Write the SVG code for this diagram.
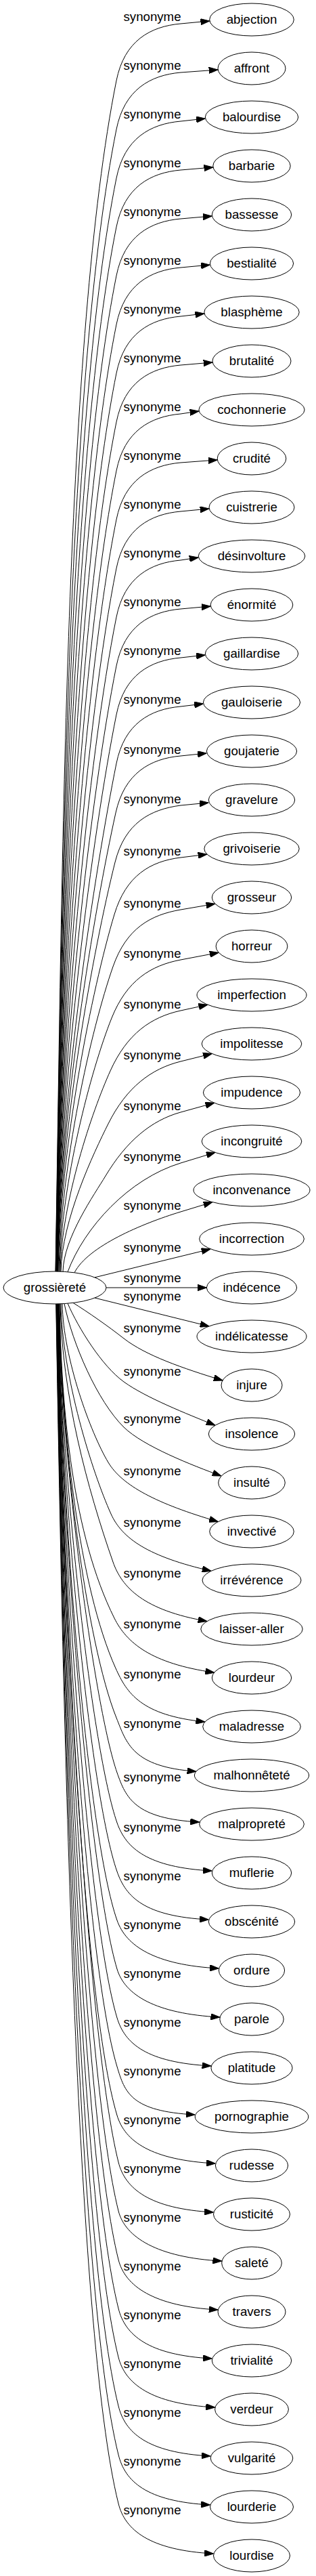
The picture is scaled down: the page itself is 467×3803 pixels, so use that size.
<svg xmlns="http://www.w3.org/2000/svg" width="467" height="3803" viewBox="0 0 467 3803">
<style>
text{font-family:"Liberation Sans",Arial,Helvetica,sans-serif;font-size:18.67px;fill:#000;text-anchor:middle}
.n ellipse{fill:#fff;stroke:#000;stroke-width:1}
.e path{fill:none;stroke:#000;stroke-width:1;marker-end:url(#arr)}
</style>
<defs>
<marker id="arr" markerUnits="userSpaceOnUse" viewBox="0 0 13.3 9.3" refX="13.3" refY="4.65" markerWidth="13.3" markerHeight="9.3" orient="auto"><path d="M0,0 L13.3,4.65 L0,9.3 z" fill="#000" stroke="#000" stroke-width="1"/></marker>
</defs>
<rect width="467" height="3803" fill="#fff"/>
<g id="connectors">
<g class="e" id="e0"><path d="M82,1877.3 C92.5,1261.9 96.2,498.3 172,119 C183.8,60.2 222,39 267,35 L309.7,31"/><text x="225" y="31">synonyme</text></g>
<g class="e" id="e1"><path d="M82.2,1877.3 C92.3,1287.1 99.3,554.7 172,191 C183.8,132.2 222,111 267,107 L322,103"/><text x="225" y="103">synonyme</text></g>
<g class="e" id="e2"><path d="M82.4,1877.3 C92.1,1312.3 102.4,611.2 172,263 C183.8,204.2 222,183 267,179 L303.3,175"/><text x="225" y="175">synonyme</text></g>
<g class="e" id="e3"><path d="M82.6,1877.3 C91.9,1337.5 105.5,667.7 172,335 C183.8,276.2 222,255 267,251 L314.8,247"/><text x="225" y="247">synonyme</text></g>
<g class="e" id="e4"><path d="M82.8,1877.3 C91.6,1362.7 108.6,724.1 172,407 C183.8,348.2 222,327 267,323 L313.3,319"/><text x="225" y="319">synonyme</text></g>
<g class="e" id="e5"><path d="M83,1877.3 C91.4,1387.9 111.7,780.6 172,479 C183.8,420.2 222,399 267,395 L310.4,391"/><text x="225" y="391">synonyme</text></g>
<g class="e" id="e6"><path d="M83.2,1877.3 C91.2,1413.1 114.8,837.1 172,551 C183.8,492.2 222,471 267,467 L301.8,463"/><text x="225" y="463">synonyme</text></g>
<g class="e" id="e7"><path d="M83.4,1877.3 C90.9,1438.3 117.9,893.6 172,623 C183.8,564.2 222,543 267,539 L314,535"/><text x="225" y="535">synonyme</text></g>
<g class="e" id="e8"><path d="M83.6,1877.3 C90.7,1463.5 121,950 172,695 C183.8,636.2 222,615 267,611 L293.9,607"/><text x="225" y="607">synonyme</text></g>
<g class="e" id="e9"><path d="M83.8,1877.3 C90.5,1488.7 124.1,1006.5 172,767 C183.8,708.2 222,687 267,683 L321.2,679"/><text x="225" y="679">synonyme</text></g>
<g class="e" id="e10"><path d="M84,1877.3 C90.2,1513.9 127.2,1063 172,839 C183.8,780.2 222,759 267,755 L309,751"/><text x="225" y="751">synonyme</text></g>
<g class="e" id="e11"><path d="M84.2,1877.3 C90,1539.1 130.4,1119.4 172,911 C183.8,852.2 222,831 267,827 L293.2,823"/><text x="225" y="823">synonyme</text></g>
<g class="e" id="e12"><path d="M84.4,1877.3 C89.8,1564.3 133.5,1175.9 172,983 C183.8,924.2 222,903 267,899 L311.2,895"/><text x="225" y="895">synonyme</text></g>
<g class="e" id="e13"><path d="M84.6,1877.3 C89.5,1589.5 136.6,1232.4 172,1055 C183.8,996.2 222,975 267,971 L303.3,967"/><text x="225" y="967">synonyme</text></g>
<g class="e" id="e14"><path d="M84.8,1877.3 C89.3,1614.7 139.7,1288.8 172,1127 C183.8,1068.2 222,1047 267,1043 L300.4,1039"/><text x="225" y="1039">synonyme</text></g>
<g class="e" id="e15"><path d="M85,1877.3 C89.1,1640.2 139,1345.5 171,1200 C183.9,1141.4 222,1120 267,1116 L305.4,1112"/><text x="225" y="1113">synonyme</text></g>
<g class="e" id="e16"><path d="M85.5,1877.3 C89.1,1665.8 137.8,1402 170,1273 C184.6,1214.8 222,1195 267,1189 L308.3,1185"/><text x="225" y="1186">synonyme</text></g>
<g class="e" id="e17"><path d="M86,1877.3 C89.2,1692.7 135.7,1461.1 169,1350 C186.2,1292.5 222.3,1271.5 267,1266 L306,1261.2"/><text x="225" y="1263">synonyme</text></g>
<g class="e" id="e18"><path d="M87,1877.3 C89.7,1719.7 134.3,1520.5 167,1427 C186.8,1370.4 222.6,1350.6 267,1343 L317.9,1334.3"/><text x="225" y="1340">synonyme</text></g>
<g class="e" id="e19"><path d="M88,1877.3 C90.2,1746.3 134.4,1579.5 165,1503 C187.3,1447.3 222.8,1425.4 267,1417 L323.2,1406.3"/><text x="225" y="1414">synonyme</text></g>
<g class="e" id="e20"><path d="M89,1877.3 C90.8,1773.6 136.2,1640.4 163,1581 C187.6,1526.3 223,1501.6 267,1492 L306.8,1483.3"/><text x="225" y="1489">synonyme</text></g>
<g class="e" id="e21"><path d="M90,1877.3 C91.3,1800.9 138.5,1702 160,1659 C186.8,1605.3 223.3,1577.8 267,1567 L313.3,1555.5"/><text x="225" y="1564">synonyme</text></g>
<g class="e" id="e22"><path d="M93,1877.3 C93.8,1827.8 140,1762.7 156,1736 C186.9,1684.5 223.6,1654 267,1642 L316.8,1628.2"/><text x="225" y="1639">synonyme</text></g>
<g class="e" id="e23"><path d="M100,1877.8 C124.5,1812 190.4,1740.3 267,1717 L318.1,1701.4"/><text x="225" y="1714">synonyme</text></g>
<g class="e" id="e24"><path d="M110,1878.8 C130,1840 209.6,1806.5 267,1789 L313.9,1774.7"/><text x="225" y="1786">synonyme</text></g>
<g class="e" id="e25"><path d="M140,1885.9 L311,1844"/><text x="225" y="1848">synonyme</text></g>
<g class="e" id="e26"><path d="M157,1901 L305.4,1901"/><text x="225" y="1893">synonyme</text></g>
<g class="e" id="e27"><path d="M140,1916.1 L309,1958"/><text x="225" y="1920">synonyme</text></g>
<g class="e" id="e28"><path d="M108,1923.4 C130,1937 160,1958 183,1976 C215,2001 270,2020 329,2038"/><text x="225" y="1967">synonyme</text></g>
<g class="e" id="e29"><path d="M100,1924.2 C116,1961 150.6,2016.6 183,2040 C215.4,2063.4 276.2,2087.3 318,2104.3"/><text x="225" y="2031">synonyme</text></g>
<g class="e" id="e30"><path d="M95,1924.6 C107,1983.4 143.8,2068.4 183,2107 C211.5,2135 284.7,2163.5 327,2179"/><text x="225" y="2101">synonyme</text></g>
<g class="e" id="e31"><path d="M92,1924.8 C93.4,2005.3 133.9,2115.5 160,2159 C180.6,2193.3 231.2,2219.9 322.4,2246.5"/><text x="225" y="2178">synonyme</text></g>
<g class="e" id="e32"><path d="M90,1924.8 C91.8,2032 136.3,2173.6 164,2235 C180.4,2271.5 219.4,2298.2 312,2319.3"/><text x="225" y="2254">synonyme</text></g>
<g class="e" id="e33"><path d="M89,1924.8 C91.3,2058.2 129.2,2198 167,2306 C180.2,2343.8 212.4,2377.2 306,2393.5"/><text x="225" y="2329">synonyme</text></g>
<g class="e" id="e34"><path d="M88,1924.8 C90.7,2084.5 107.8,2266.6 169,2389 C186.9,2424.8 222.6,2455.9 316.6,2469.2"/><text x="225" y="2404">synonyme</text></g>
<g class="e" id="e35"><path d="M87.5,1924.8 C90.7,2110.4 116.6,2342.1 171,2463 C187.4,2499.5 208.3,2532.5 302.8,2542"/><text x="225" y="2478">synonyme</text></g>
<g class="e" id="e36"><path d="M87,1924.8 C90.6,2135.9 127.2,2424 172,2536 C186.9,2573.1 195.2,2608.6 289.9,2615.2"/><text x="225" y="2551">synonyme</text></g>
<g class="e" id="e37"><path d="M86.5,1924.8 C90.5,2156.6 140.2,2523.3 173,2617 C186.2,2654.8 199.6,2685 294.6,2690"/><text x="225" y="2630">synonyme</text></g>
<g class="e" id="e38"><path d="M86.25,1924.8 C90.7,2182.5 136.5,2586.8 173,2691 C186.2,2728.8 218.3,2757 313.3,2762"/><text x="225" y="2704">synonyme</text></g>
<g class="e" id="e39"><path d="M86,1924.8 C90.8,2207.7 133,2648.6 173,2763 C186.2,2800.8 213.3,2829 308.3,2834"/><text x="225" y="2776">synonyme</text></g>
<g class="e" id="e40"><path d="M85.75,1924.8 C91,2232.9 129.4,2710.4 173,2835 C186.2,2872.8 228.4,2901 323.4,2906"/><text x="225" y="2848">synonyme</text></g>
<g class="e" id="e41"><path d="M85.5,1924.8 C91.2,2258.1 132,2770.2 173,2907 C184.5,2945.3 229.8,2973 324.8,2978"/><text x="225" y="2920">synonyme</text></g>
<g class="e" id="e42"><path d="M85.25,1924.8 C91.4,2283.3 128.9,2831.9 173,2979 C184.5,3017.3 216.9,3045 311.9,3050"/><text x="225" y="2992">synonyme</text></g>
<g class="e" id="e43"><path d="M85,1924.8 C91.6,2308.5 125.7,2893.5 173,3051 C184.5,3089.3 193.2,3117 288.2,3122"/><text x="225" y="3064">synonyme</text></g>
<g class="e" id="e44"><path d="M84.75,1924.8 C91.8,2333.7 122.6,2955.2 173,3123 C184.5,3161.3 223.4,3189 318.4,3194"/><text x="225" y="3136">synonyme</text></g>
<g class="e" id="e45"><path d="M84.5,1924.8 C91.9,2358.9 129.9,3011.6 175,3192 C184.7,3230.8 220.5,3261 315.5,3266"/><text x="225" y="3208">synonyme</text></g>
<g class="e" id="e46"><path d="M84.25,1924.8 C92.1,2384.1 127.3,3073.1 175,3264 C184.7,3302.8 232.7,3333 327.7,3338"/><text x="225" y="3280">synonyme</text></g>
<g class="e" id="e47"><path d="M84,1924.8 C92.3,2409.3 124.7,3134.6 175,3336 C184.7,3374.8 227,3405 322,3410"/><text x="225" y="3352">synonyme</text></g>
<g class="e" id="e48"><path d="M83.75,1924.8 C92.5,2434.5 122,3196.1 175,3408 C184.7,3446.8 218.3,3477 313.3,3482"/><text x="225" y="3424">synonyme</text></g>
<g class="e" id="e49"><path d="M83.5,1924.8 C92.7,2459.7 119.4,3257.7 175,3480 C184.7,3518.8 222.6,3549 317.6,3554"/><text x="225" y="3496">synonyme</text></g>
<g class="e" id="e50"><path d="M83.25,1924.8 C92.9,2484.9 116.8,3319.2 175,3552 C184.7,3590.8 216.2,3621 311.2,3626"/><text x="225" y="3568">synonyme</text></g>
<g class="e" id="e51"><path d="M83,1924.8 C93,2510.1 114.2,3380.7 175,3624 C184.7,3662.8 215.5,3693 310.5,3698"/><text x="225" y="3640">synonyme</text></g>
<g class="e" id="e52"><path d="M82.75,1924.8 C93.3,2535.3 111.6,3442.2 175,3696 C184.7,3734.8 220.5,3765 315.5,3770"/><text x="225" y="3712">synonyme</text></g>
</g>
<g class="n" id="grossierete"><ellipse cx="81" cy="1901" rx="76" ry="24"/><text x="81" y="1907">grossièreté</text></g>
<g class="n" id="n0"><ellipse cx="372" cy="29" rx="62.3" ry="24"/><text x="372" y="35">abjection</text></g>
<g class="n" id="n1"><ellipse cx="372" cy="101" rx="50" ry="24"/><text x="372" y="107">affront</text></g>
<g class="n" id="n2"><ellipse cx="372" cy="173" rx="68.7" ry="24"/><text x="372" y="179">balourdise</text></g>
<g class="n" id="n3"><ellipse cx="372" cy="245" rx="57.2" ry="24"/><text x="372" y="251">barbarie</text></g>
<g class="n" id="n4"><ellipse cx="372" cy="317" rx="58.7" ry="24"/><text x="372" y="323">bassesse</text></g>
<g class="n" id="n5"><ellipse cx="372" cy="389" rx="61.6" ry="24"/><text x="372" y="395">bestialité</text></g>
<g class="n" id="n6"><ellipse cx="372" cy="461" rx="70.2" ry="24"/><text x="372" y="467">blasphème</text></g>
<g class="n" id="n7"><ellipse cx="372" cy="533" rx="58" ry="24"/><text x="372" y="539">brutalité</text></g>
<g class="n" id="n8"><ellipse cx="372" cy="605" rx="78.1" ry="24"/><text x="372" y="611">cochonnerie</text></g>
<g class="n" id="n9"><ellipse cx="372" cy="677" rx="50.8" ry="24"/><text x="372" y="683">crudité</text></g>
<g class="n" id="n10"><ellipse cx="372" cy="749" rx="63" ry="24"/><text x="372" y="755">cuistrerie</text></g>
<g class="n" id="n11"><ellipse cx="372" cy="821" rx="78.8" ry="24"/><text x="372" y="827">désinvolture</text></g>
<g class="n" id="n12"><ellipse cx="372" cy="893" rx="60.8" ry="24"/><text x="372" y="899">énormité</text></g>
<g class="n" id="n13"><ellipse cx="372" cy="965" rx="68.7" ry="24"/><text x="372" y="971">gaillardise</text></g>
<g class="n" id="n14"><ellipse cx="372" cy="1037" rx="71.6" ry="24"/><text x="372" y="1043">gauloiserie</text></g>
<g class="n" id="n15"><ellipse cx="372" cy="1109" rx="66.6" ry="24"/><text x="372" y="1115">goujaterie</text></g>
<g class="n" id="n16"><ellipse cx="372" cy="1181" rx="63.7" ry="24"/><text x="372" y="1187">gravelure</text></g>
<g class="n" id="n17"><ellipse cx="372" cy="1253" rx="70.2" ry="24"/><text x="372" y="1259">grivoiserie</text></g>
<g class="n" id="n18"><ellipse cx="372" cy="1325" rx="58.7" ry="24"/><text x="372" y="1331">grosseur</text></g>
<g class="n" id="n19"><ellipse cx="372" cy="1397" rx="52.9" ry="24"/><text x="372" y="1403">horreur</text></g>
<g class="n" id="n20"><ellipse cx="372" cy="1469" rx="81" ry="24"/><text x="372" y="1475">imperfection</text></g>
<g class="n" id="n21"><ellipse cx="372" cy="1541" rx="73.8" ry="24"/><text x="372" y="1547">impolitesse</text></g>
<g class="n" id="n22"><ellipse cx="372" cy="1613" rx="71.6" ry="24"/><text x="372" y="1619">impudence</text></g>
<g class="n" id="n23"><ellipse cx="372" cy="1685" rx="73.8" ry="24"/><text x="372" y="1691">incongruité</text></g>
<g class="n" id="n24"><ellipse cx="372" cy="1757" rx="86" ry="24"/><text x="372" y="1763">inconvenance</text></g>
<g class="n" id="n25"><ellipse cx="372" cy="1829" rx="77.4" ry="24"/><text x="372" y="1835">incorrection</text></g>
<g class="n" id="n26"><ellipse cx="372" cy="1901" rx="66.6" ry="24"/><text x="372" y="1907">indécence</text></g>
<g class="n" id="n27"><ellipse cx="372" cy="1973" rx="81" ry="24"/><text x="372" y="1979">indélicatesse</text></g>
<g class="n" id="n28"><ellipse cx="372" cy="2045" rx="45" ry="24"/><text x="372" y="2051">injure</text></g>
<g class="n" id="n29"><ellipse cx="372" cy="2117" rx="63.7" ry="24"/><text x="372" y="2123">insolence</text></g>
<g class="n" id="n30"><ellipse cx="372" cy="2189" rx="49.3" ry="24"/><text x="372" y="2195">insulté</text></g>
<g class="n" id="n31"><ellipse cx="372" cy="2261" rx="62.3" ry="24"/><text x="372" y="2267">invectivé</text></g>
<g class="n" id="n32"><ellipse cx="372" cy="2333" rx="73" ry="24"/><text x="372" y="2339">irrévérence</text></g>
<g class="n" id="n33"><ellipse cx="372" cy="2405" rx="75.2" ry="24"/><text x="372" y="2411">laisser-aller</text></g>
<g class="n" id="n34"><ellipse cx="372" cy="2477" rx="58.7" ry="24"/><text x="372" y="2483">lourdeur</text></g>
<g class="n" id="n35"><ellipse cx="372" cy="2549" rx="72.3" ry="24"/><text x="372" y="2555">maladresse</text></g>
<g class="n" id="n36"><ellipse cx="372" cy="2621" rx="84.6" ry="24"/><text x="372" y="2627">malhonnêteté</text></g>
<g class="n" id="n37"><ellipse cx="372" cy="2693" rx="77.4" ry="24"/><text x="372" y="2699">malpropreté</text></g>
<g class="n" id="n38"><ellipse cx="372" cy="2765" rx="58.7" ry="24"/><text x="372" y="2771">muflerie</text></g>
<g class="n" id="n39"><ellipse cx="372" cy="2837" rx="63.7" ry="24"/><text x="372" y="2843">obscénité</text></g>
<g class="n" id="n40"><ellipse cx="372" cy="2909" rx="48.6" ry="24"/><text x="372" y="2915">ordure</text></g>
<g class="n" id="n41"><ellipse cx="372" cy="2981" rx="47.2" ry="24"/><text x="372" y="2987">parole</text></g>
<g class="n" id="n42"><ellipse cx="372" cy="3053" rx="60.1" ry="24"/><text x="372" y="3059">platitude</text></g>
<g class="n" id="n43"><ellipse cx="372" cy="3125" rx="83.8" ry="24"/><text x="372" y="3131">pornographie</text></g>
<g class="n" id="n44"><ellipse cx="372" cy="3197" rx="53.6" ry="24"/><text x="372" y="3203">rudesse</text></g>
<g class="n" id="n45"><ellipse cx="372" cy="3269" rx="56.5" ry="24"/><text x="372" y="3275">rusticité</text></g>
<g class="n" id="n46"><ellipse cx="372" cy="3341" rx="44.3" ry="24"/><text x="372" y="3347">saleté</text></g>
<g class="n" id="n47"><ellipse cx="372" cy="3413" rx="50" ry="24"/><text x="372" y="3419">travers</text></g>
<g class="n" id="n48"><ellipse cx="372" cy="3485" rx="58.7" ry="24"/><text x="372" y="3491">trivialité</text></g>
<g class="n" id="n49"><ellipse cx="372" cy="3557" rx="54.4" ry="24"/><text x="372" y="3563">verdeur</text></g>
<g class="n" id="n50"><ellipse cx="372" cy="3629" rx="60.8" ry="24"/><text x="372" y="3635">vulgarité</text></g>
<g class="n" id="n51"><ellipse cx="372" cy="3701" rx="61.5" ry="24"/><text x="372" y="3707">lourderie</text></g>
<g class="n" id="n52"><ellipse cx="372" cy="3773" rx="56.5" ry="24"/><text x="372" y="3779">lourdise</text></g>
</svg>
